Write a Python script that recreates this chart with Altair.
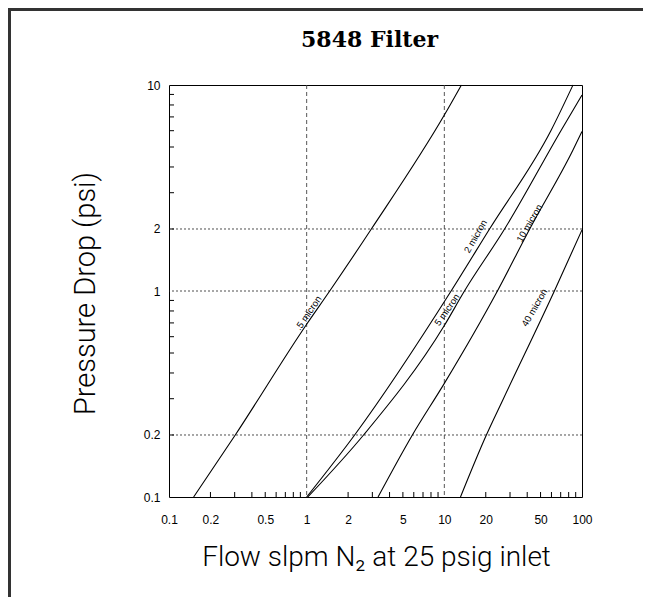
import altair as alt
import pandas as pd

# ---- data (flow slpm, pressure drop psi) ----
flow_p5 = [0.151, 0.303, 1.0, 1.47, 2.95, 10.0, 13.3]
drop_p5 = [0.1, 0.2, 0.69, 1.0, 2.0, 7.15, 10.0]

flow_2 = [1.0, 2.23, 11.2, 21.3, 59.8, 86.0]
drop_2 = [0.1, 0.2, 1.0, 2.0, 6.05, 10.0]

flow_5 = [1.02, 2.59, 10.0, 14.0, 27.4, 70.8, 100.0]
drop_5 = [0.1, 0.2, 0.68, 1.0, 2.0, 6.05, 8.94]

flow_10 = [3.3, 5.86, 10.0, 24.3, 41.7, 86.0, 100.0]
drop_10 = [0.1, 0.2, 0.356, 1.0, 2.0, 4.83, 5.95]

flow_40 = [13.1, 20.2, 26.6, 63.0, 100.0]
drop_40 = [0.1, 0.2, 0.296, 1.0, 1.98]

series_names = [".5 micron", "2 micron", "5 micron", "10 micron", "40 micron"]

label_text = [".5 micron", "2 micron", "5 micron", "10 micron", "40 micron"]
label_flow = [1.03, 16.9, 10.5, 41.6, 45.3]
label_drop = [0.78, 1.84, 0.81, 2.13, 0.83]

x_tick_labels = [0.1, 0.2, 0.5, 1, 2, 5, 10, 20, 50, 100]
y_tick_labels = [0.1, 0.2, 1, 2, 10]
x_minor = [0.2, 0.3, 0.4, 0.5, 0.6, 0.7, 0.8, 0.9,
           2, 3, 4, 5, 6, 7, 8, 9,
           20, 30, 40, 50, 60, 70, 80, 90]
y_minor = [0.2, 0.3, 0.4, 0.5, 0.6, 0.7, 0.8, 0.9,
           2, 3, 4, 5, 6, 7, 8, 9]
h_grid = [0.2, 1, 2]
v_grid = [1, 10]

# ---- styles ----
label_angles = [304, 300, 305, 300, 300]
W, H = 413, 412

rows = []
for name, fx, fy in zip(series_names,
                        [flow_p5, flow_2, flow_5, flow_10, flow_40],
                        [drop_p5, drop_2, drop_5, drop_10, drop_40]):
    for a, b in zip(fx, fy):
        rows.append({"filter": name, "flow": a, "drop": b})
curves = pd.DataFrame(rows)
labels = pd.DataFrame({"t": label_text, "flow": label_flow,
                       "drop": label_drop, "ang": label_angles})

xs = alt.Scale(type="log", domain=[0.1, 100], nice=False)
ys = alt.Scale(type="log", domain=[0.1, 10], nice=False)

x_axis = alt.Axis(values=x_tick_labels, format="~g", ticks=False, tickSize=0,
                  domain=False, grid=False, labelFlush=False, labelOverlap=False,
                  labelFont="Liberation Sans", labelFontSize=12, labelColor="black",
                  labelPadding=17,
                  title="Flow slpm N\u2082 at 25 psig inlet",
                  titleFont="Roboto", titleFontWeight=300, titleFontSize=28,
                  titleColor="black", titleX=207, titleY=68,
                  titleAlign="center", titleBaseline="alphabetic")
y_axis = alt.Axis(values=y_tick_labels, format="~g", ticks=False, tickSize=0,
                  domain=False, grid=False, labelFlush=False, labelOverlap=False,
                  labelFont="Liberation Sans", labelFontSize=12, labelColor="black",
                  labelPadding=9,
                  title="Pressure Drop (psi)",
                  titleFont="Roboto", titleFontWeight=300, titleFontSize=29,
                  titleColor="black", titleX=-84, titleY=208, titleAngle=270,
                  titleAlign="center", titleBaseline="middle")

lines = alt.Chart(curves).mark_line(color="black", strokeWidth=1.1,
                                    interpolate="monotone").encode(
    x=alt.X("flow:Q", scale=xs, axis=x_axis),
    y=alt.Y("drop:Q", scale=ys, axis=y_axis),
    detail="filter:N",
)

hgrid = alt.Chart(pd.DataFrame({"v": h_grid})).mark_rule(
    color="#222", strokeWidth=0.8, strokeDash=[2, 2]).encode(
    y=alt.Y("v:Q", scale=ys, axis=y_axis))

vgrid = alt.Chart(pd.DataFrame({"v": v_grid})).mark_rule(
    color="#444", strokeWidth=0.9, strokeDash=[4, 3]).encode(
    x=alt.X("v:Q", scale=xs, axis=x_axis))

xticks = alt.Chart(pd.DataFrame({"v": x_minor})).mark_rule(
    color="black", strokeWidth=1).encode(
    x=alt.X("v:Q", scale=xs, axis=x_axis),
    y=alt.value(H), y2=alt.value(H - 5))

yticks = alt.Chart(pd.DataFrame({"v": y_minor})).mark_rule(
    color="black", strokeWidth=1).encode(
    y=alt.Y("v:Q", scale=ys, axis=y_axis),
    x=alt.value(0), x2=alt.value(5))

text = alt.Chart(labels).mark_text(
    font="Liberation Sans", fontSize=9.5, align="center", baseline="middle",
    color="black").encode(
    x=alt.X("flow:Q", scale=xs, axis=x_axis),
    y=alt.Y("drop:Q", scale=ys, axis=y_axis),
    text="t:N",
    angle=alt.Angle("ang:Q", scale=None),
)

# decorative page frame (top and left edges)
frame_left = alt.Chart(pd.DataFrame({"v": [0]})).mark_rule(
    color="#333", strokeWidth=3).encode(
    x=alt.value(-159.5), y=alt.value(-77), y2=alt.value(H + 100))
frame_top = alt.Chart(pd.DataFrame({"v": [0]})).mark_rule(
    color="#333", strokeWidth=3).encode(
    x=alt.value(-161), x2=alt.value(W + 61), y=alt.value(-75.5))

chart = alt.layer(hgrid, vgrid, xticks, yticks, lines, text,
                  frame_left, frame_top).properties(
    width=W, height=H,
    padding={"left": 161, "top": 77, "right": 61, "bottom": 100},
    autosize=alt.AutoSizeParams(type="none"),
    title=alt.TitleParams("5848 Filter", font="DejaVu Serif", fontSize=22,
                          fontWeight="bold", color="black", anchor="middle",
                          frame="group", offset=-62.5, baseline="alphabetic",
                          dx=-6),
).configure_view(stroke="black", strokeWidth=1)

chart.save("out.html", embed_options={"renderer": "svg", "actions": False})
